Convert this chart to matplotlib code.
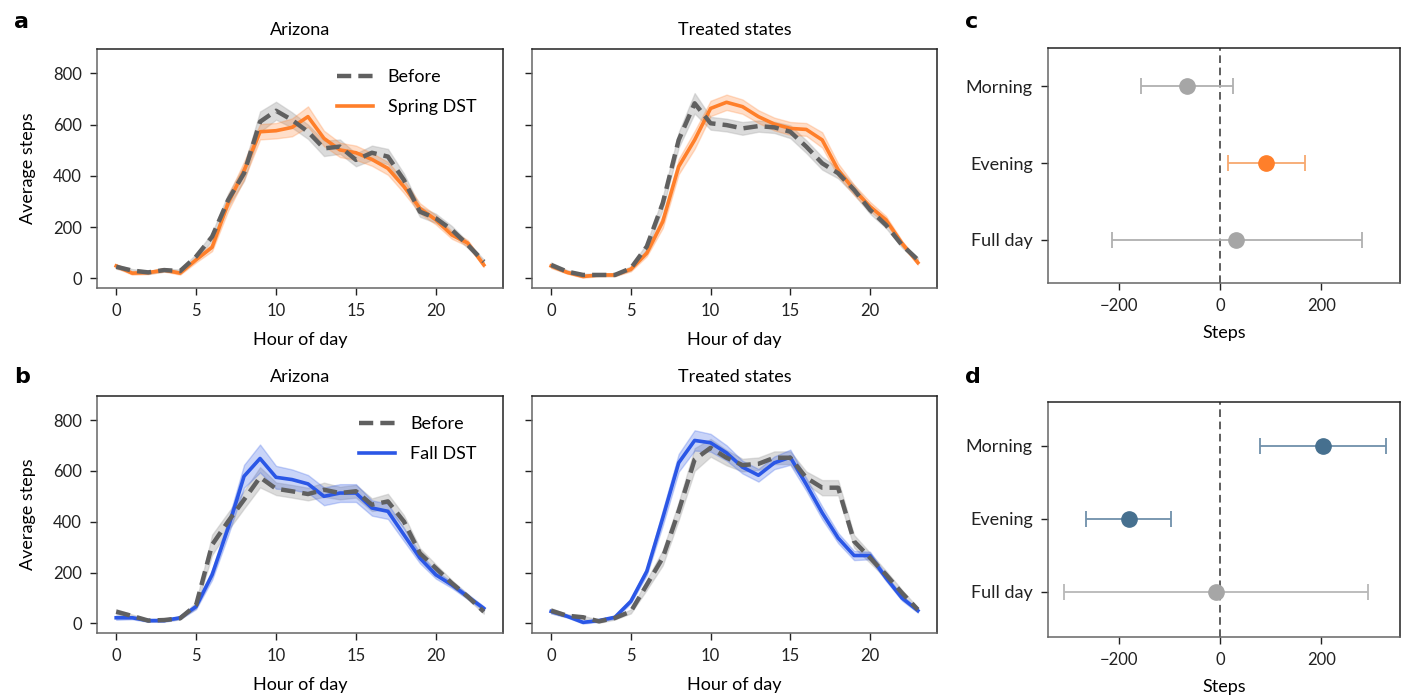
import numpy as np
import matplotlib
matplotlib.use('Agg')
import matplotlib.pyplot as plt

plt.rcParams['font.family'] = ['Lato', 'DejaVu Sans']
plt.rcParams['font.size'] = 12

hours = list(range(24))

# row a: spring DST
az_spring_before = [45, 30, 23, 32, 28, 85, 162, 305, 410, 611, 654, 618, 572, 507,
                    514, 462, 490, 475, 384, 260, 234, 189, 130, 65]
az_spring_before_ci = [8, 6, 6, 6, 6, 10, 15, 25, 30, 40, 35, 30, 28, 30, 28, 25,
                       28, 30, 25, 20, 18, 15, 12, 8]
az_spring_after = [48, 20, 22, 32, 20, 72, 121, 293, 420, 572, 576, 589, 631, 546,
                   501, 490, 464, 429, 358, 273, 228, 169, 137, 52]
az_spring_after_ci = [8, 6, 6, 6, 6, 10, 15, 30, 35, 30, 30, 35, 40, 30, 28, 28,
                      25, 25, 25, 20, 18, 15, 12, 8]
tr_spring_before = [52, 26, 13, 13, 13, 39, 124, 293, 540, 683, 605, 598, 585, 594,
                    589, 572, 514, 449, 410, 345, 267, 208, 130, 72]
tr_spring_before_ci = [10, 6, 5, 5, 5, 8, 12, 25, 30, 40, 25, 25, 25, 22, 22, 25,
                       25, 25, 20, 18, 15, 12, 10, 8]
tr_spring_after = [48, 23, 7, 13, 13, 35, 98, 221, 436, 540, 663, 687, 670, 631,
                   602, 585, 581, 540, 423, 345, 280, 228, 137, 61]
tr_spring_after_ci = [8, 5, 5, 5, 5, 8, 12, 25, 30, 35, 30, 30, 28, 25, 25, 25,
                      25, 30, 25, 20, 18, 15, 10, 8]

# row b: fall DST
az_fall_before = [46, 29, 11, 13, 20, 72, 309, 401, 487, 575, 530, 520, 509, 526,
                  513, 520, 467, 480, 401, 276, 217, 158, 105, 46]
az_fall_before_ci = [10, 6, 5, 5, 5, 12, 40, 35, 35, 40, 25, 25, 25, 28, 25, 25,
                     25, 30, 25, 20, 15, 12, 10, 8]
az_fall_after = [22, 22, 11, 11, 22, 66, 191, 375, 579, 649, 575, 566, 549, 500,
                 513, 513, 454, 441, 349, 257, 191, 151, 105, 59]
az_fall_after_ci = [8, 6, 5, 5, 5, 10, 20, 30, 45, 55, 45, 40, 35, 35, 35, 35,
                    30, 30, 25, 20, 15, 12, 10, 8]
tr_fall_before = [50, 30, 24, 8, 21, 47, 152, 258, 442, 645, 691, 652, 623, 628,
                  652, 652, 573, 534, 534, 323, 258, 192, 120, 54]
tr_fall_before_ci = [10, 6, 6, 6, 6, 8, 20, 30, 35, 45, 35, 30, 25, 25, 25, 25,
                     25, 30, 30, 25, 20, 15, 12, 8]
tr_fall_after = [47, 28, 4, 11, 24, 87, 205, 415, 632, 720, 711, 671, 615, 583,
                 632, 654, 547, 435, 336, 267, 267, 179, 100, 50]
tr_fall_after_ci = [8, 5, 5, 5, 5, 8, 15, 30, 35, 40, 35, 30, 25, 25, 25, 30,
                    25, 25, 20, 18, 15, 12, 10, 8]

# forest plots
periods = ['Morning', 'Evening', 'Full day']
c_est = [-66, 91, 32]
c_lo = [-156, 15, -214]
c_hi = [25, 168, 279]
d_est = [203, -180, -9]
d_lo = [79, -264, -309]
d_hi = [328, -97, 291]

GRAY = '#606060'
ORANGE = '#ff7f2a'
BLUE = '#2b57e6'
STEEL = '#46708f'
DOT_GRAY = '#a6a6a6'

W, H = 1406, 697
fig = plt.figure(figsize=(W / 100, H / 100), dpi=100)


def box(l, t, r, b):
    return [l / W, 1 - b / H, (r - l) / W, (b - t) / H]


def style(ax):
    for s in ax.spines.values():
        s.set_linewidth(1.1)
        s.set_color('#222222')
    ax.spines['left'].set_color('#666666')
    ax.spines['bottom'].set_color('#666666')
    ax.tick_params(length=5, width=1, pad=6, labelsize=12, colors='#222222')


def line_panel(rect, before, bci, after, aci, col, lab, title, legend, ylab):
    ax = fig.add_axes(box(*rect))
    style(ax)
    x = np.array(hours)
    b, bc = np.array(before), np.array(bci)
    a, ac = np.array(after), np.array(aci)
    ax.fill_between(x, b - bc, b + bc, color='#999999', alpha=0.35, lw=1,
                    edgecolor='#aaaaaa')
    ax.fill_between(x, a - ac, a + ac, color=col, alpha=0.25, lw=1)
    ax.plot(x, a, color=col, lw=2.6, label=lab, zorder=3)
    ax.plot(x, b, color=GRAY, lw=3.2, ls=(0, (3.2, 1.6)), label='Before', zorder=4)
    ax.set_xlim(-1.2, 24.2)
    ax.set_ylim(-38, 895)
    ax.set_xticks([0, 5, 10, 15, 20])
    ax.set_yticks([0, 200, 400, 600, 800])
    ax.set_title(title, fontsize=13, pad=10)
    ax.set_xlabel('Hour of day', fontsize=13, labelpad=9)
    if ylab:
        ax.set_ylabel('Average steps', fontsize=13, labelpad=12)
    else:
        ax.set_yticklabels([])
    if legend:
        h, l = ax.get_legend_handles_labels()
        ax.legend(h[::-1], l[::-1], loc='upper right', frameon=False, fontsize=13,
                  handlelength=2.0, borderaxespad=0.4, labelspacing=0.75,
                  bbox_to_anchor=(0.97, 0.975))
    return ax


line_panel((97, 49, 503, 288), az_spring_before, az_spring_before_ci,
           az_spring_after, az_spring_after_ci, ORANGE, 'Spring DST', 'Arizona', True, True)
line_panel((532, 49, 937, 288), tr_spring_before, tr_spring_before_ci,
           tr_spring_after, tr_spring_after_ci, ORANGE, 'Spring DST', 'Treated states', False, False)
line_panel((97, 396, 503, 633), az_fall_before, az_fall_before_ci,
           az_fall_after, az_fall_after_ci, BLUE, 'Fall DST', 'Arizona', True, True)
line_panel((532, 396, 937, 633), tr_fall_before, tr_fall_before_ci,
           tr_fall_after, tr_fall_after_ci, BLUE, 'Fall DST', 'Treated states', False, False)


def forest(rect, est, lo, hi, colors, ecolors, ylim):
    ax = fig.add_axes(box(*rect))
    style(ax)
    ypos = [2, 1, 0]
    for y, e, l, h, c, ec in zip(ypos, est, lo, hi, colors, ecolors):
        ax.errorbar([e], [y], xerr=[[e - l], [h - e]], fmt='none', ecolor=ec,
                    elinewidth=1.3, capsize=6, capthick=1.3, zorder=2)
        ax.plot([e], [y], 'o', color=c, ms=11, zorder=3)
    ax.axvline(0, color='#333333', ls=(0, (5, 3)), lw=1.1, zorder=1)
    ax.set_xlim(-340, 355)
    ax.set_ylim(*ylim)
    ax.set_yticks(ypos)
    ax.set_yticklabels(periods, fontsize=13)
    ax.set_xticks([-200, 0, 200])
    ax.set_xticklabels(['\u2212200', '0', '200'])
    ax.set_xlabel('Steps', fontsize=13, labelpad=8)
    return ax


forest((1048, 48, 1400, 283), c_est, c_lo, c_hi,
       [DOT_GRAY, ORANGE, DOT_GRAY], ['#b0b0b0', '#f7a86e', '#b0b0b0'], (-0.56, 2.5))
forest((1048, 402, 1400, 637), d_est, d_lo, d_hi,
       [STEEL, STEEL, DOT_GRAY], ['#6f90aa', '#6f90aa', '#b8b8b8'], (-0.62, 2.6))

for letter, (px, py) in zip('abcd', [(14, 28), (14, 383), (965, 28), (965, 383)]):
    fig.text(px / W, 1 - py / H, letter, fontsize=16, fontweight='bold',
             family='DejaVu Sans', va='baseline')

fig.savefig('out.png', dpi=100)
